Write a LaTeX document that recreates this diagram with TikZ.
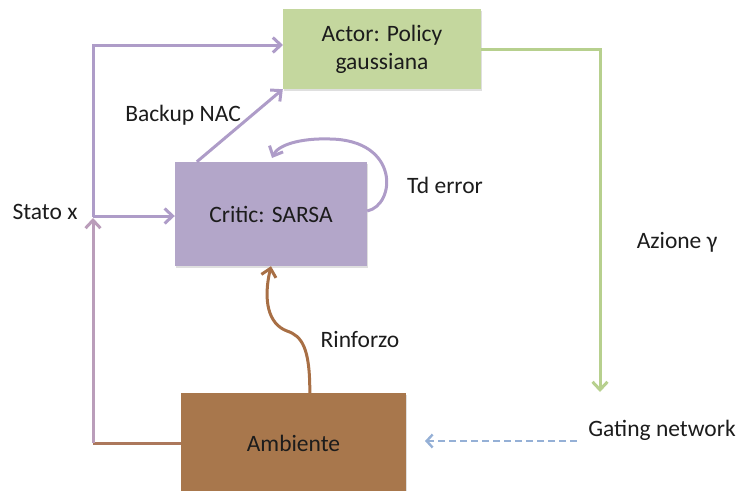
\documentclass[tikz,border=0pt]{standalone}
\usepackage{fontspec}
\setmainfont{Carlito}
\usetikzlibrary{arrows.meta,shadows,calc}
\definecolor{actorfill}{HTML}{C4D79E}
\definecolor{criticfill}{HTML}{B3A6C9}
\definecolor{envfill}{HTML}{A8774C}
\definecolor{purpleline}{HTML}{AE9CC8}
\definecolor{mauveline}{HTML}{BA9DBA}
\definecolor{greenline}{HTML}{B7D08E}
\definecolor{brownline}{HTML}{A86F45}
\definecolor{blueline}{HTML}{95B0D6}
\definecolor{txt}{HTML}{1C1C1C}
\tikzset{
  x=1pt, y=-1pt,
  every node/.style={font=\fontsize{23.5}{28}\selectfont, text=txt},
  box/.style={draw=none, align=center, inner sep=0pt,
    drop shadow={shadow xshift=1.2pt, shadow yshift=-1.5pt, opacity=0.25}},
  tip/.style={-{Straight Barb[length=8pt,width=15pt,line width=3pt]}},
  conn/.style={line width=3pt, tip},
  lbl/.style={inner sep=0pt}
}
\begin{document}
\begin{tikzpicture}
\useasboundingbox (0,0) rectangle (739,490);

% blocks
\node[box, fill=actorfill, minimum width=198pt, minimum height=80pt] (actor) at (382,49) {Actor: Policy\\gaussiana};
\node[box, fill=criticfill, minimum width=192pt, minimum height=104pt] (critic) at (271,214) {Critic: SARSA};
\node[box, fill=envfill, minimum width=225pt, minimum height=100pt] (env) at (293.5,443) {Ambiente};

% labels
\node[lbl] (lstato) at (45,212) {Stato x};
\node[lbl] (lbackup) at (183,115) {Backup NAC};
\node[lbl] (ltd) at (445,185) {Td error};
\node[lbl] (lrinf) at (360,339) {Rinforzo};
\node[lbl] (lazione) at (677,242) {Azione γ};
\node[lbl] (gate) at (662,430) {Gating network};

% routing points
\coordinate (bl) at (93,443);
\coordinate (jn) at (93,218);
\coordinate (tl) at (93,45);
\coordinate (actin) at (283,45);
\coordinate (azcorner) at (600,49);
\coordinate (azend) at (600,392);
\coordinate (dstart) at (577,441);
\coordinate (dend) at (425,441);

% state feedback from the environment
\draw[line width=3pt, brownline!80!mauveline] (env.west) -- (bl);
\draw[conn, mauveline] (bl) -- (jn);
\draw[conn, purpleline] (93,216) -- (critic.west |- 0,216);
\draw[conn, purpleline] (93,217) -- (tl) -- (actin);

% critic to actor
\draw[conn, purpleline] ($(critic.north west)+(22,0)$) -- (actor.south west);

% TD error loop
\draw[conn, purpleline] ($(critic.east)+(0,-3)$)
  .. controls (396,205) and (400,140) .. (330,139)
  .. controls (300,138) and (278,145) .. (272,158);

% reward
\draw[conn, brownline] ($(env.north west)+(129,0)$)
  .. controls (310,348) and (302,336) .. (287,331)
  .. controls (268,324) and (263,300) .. (critic.south);

% action
\draw[conn, greenline] (actor.east) -- (azcorner) -- (azend);

% gating network
\draw[line width=2.4pt, blueline, dashed, dash pattern=on 7pt off 4pt,
  -{Straight Barb[length=6pt,width=13pt,line width=2.4pt]}] (dstart) -- (dend);
\end{tikzpicture}
\end{document}
